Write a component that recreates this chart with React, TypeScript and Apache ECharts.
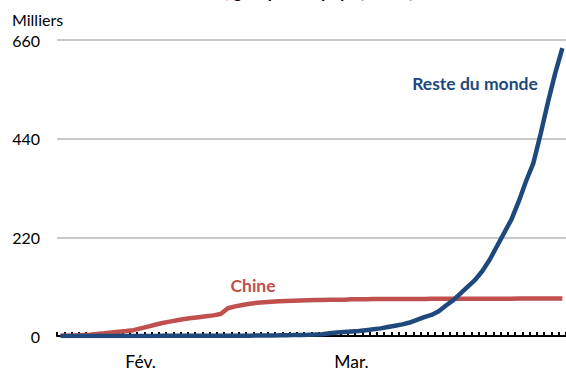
import React, { useEffect, useRef } from "react";
import * as echarts from "echarts";

const startDate = new Date(2020, 0, 21);
const monthNames = ["Janv.", "Fév.", "Mar.", "Avr."];
const categories: string[] = [];
for (let i = 0; i < 70; i++) {
  const d = new Date(startDate.getTime() + i * 86400000);
  categories.push(`${d.getFullYear()}-${d.getMonth() + 1}-${d.getDate()}`);
}
const monthLabelDates = ["2020-2-1", "2020-3-1"];

const chine = [
  0.5, 0.8, 1.2, 2, 3, 4.5, 6, 8, 9.5, 11,
  13, 17, 21, 25, 29, 32, 35, 38, 40, 42,
  44, 46, 49, 62, 66, 69, 72, 74, 75.5, 76.5,
  77.5, 78, 78.5, 79, 79.5, 80, 80.3, 80.6, 80.8, 81,
  82, 82.1, 82.2, 82.3, 82.4, 82.5, 82.5, 82.6, 82.6, 82.7,
  82.7, 82.8, 82.8, 82.9, 82.9, 83, 83, 83.1, 83.1, 83.2,
  83.2, 83.3, 83.3, 83.4, 83.4, 83.4, 83.5, 83.5, 83.5, 83.5,
];

const resteDuMonde = [
  0, 0, 0, 0, 0, 0.1, 0.1, 0.1, 0.1, 0.1,
  0.2, 0.2, 0.2, 0.2, 0.3, 0.3, 0.3, 0.3, 0.4, 0.4,
  0.5, 0.5, 0.5, 0.6, 0.6, 0.7, 0.8, 0.9, 1, 1.2,
  1.4, 1.7, 2, 2.4, 2.8, 3.3, 4, 6, 8, 9,
  10, 11, 13, 15, 17, 20, 23, 26, 30, 36,
  42, 47, 55, 68, 80, 95, 110, 125, 145, 170,
  200, 230, 260, 300, 345, 385, 450, 520, 585, 642,
];

const yTicks = [0, 220, 440, 660];

const FONT = "Lato, 'Open Sans', sans-serif";

export default function App() {
  const ref = useRef<HTMLDivElement>(null);
  useEffect(() => {
    if (!ref.current) return;
    const chart = echarts.init(ref.current, undefined, { renderer: "svg" });
    chart.setOption({
      animation: false,
      backgroundColor: "#ffffff",
      textStyle: { fontFamily: FONT },
      grid: { left: 57, right: 0, top: 40, bottom: 33, containLabel: false },
      xAxis: {
        type: "category",
        data: categories,
        boundaryGap: true,
        axisLine: { show: true, lineStyle: { color: "#000000", width: 2 } },
        axisTick: {
          show: true,
          inside: true,
          length: 4,
          interval: 0,
          lineStyle: { color: "#000000", width: 2 },
        },
        axisLabel: {
          interval: (idx: number, val: string) => monthLabelDates.includes(val),
          formatter: (val: string) => {
            const m = parseInt(val.split("-")[1], 10);
            return monthNames[m - 1];
          },
          color: "#000000",
          fontSize: 17.5,
          fontFamily: FONT,
          margin: 16,
        },
        splitLine: { show: false },
      },
      yAxis: {
        type: "value",
        min: yTicks[0],
        max: yTicks[yTicks.length - 1],
        interval: 220,
        axisLine: { show: false },
        axisTick: { show: false },
        axisLabel: {
          color: "#000000",
          fontSize: 16,
          fontFamily: FONT,
          margin: 17,
        },
        splitLine: { show: true, lineStyle: { color: "#C8C8C8", width: 2 } },
      },
      series: [
        {
          name: "Chine",
          type: "line",
          data: chine,
          showSymbol: false,
          symbol: "none",
          lineStyle: { color: "#C0504D", width: 4.5 },
          z: 3,
        },
        {
          name: "Reste du monde",
          type: "line",
          data: resteDuMonde,
          showSymbol: false,
          symbol: "none",
          lineStyle: { color: "#1F497D", width: 4.5 },
          z: 4,
        },
      ],
      graphic: [
        {
          type: "text",
          left: 12,
          top: -17,
          style: {
            text: "Cas confirmés de COVID-19, groupe des pays (cumul)",
            fontSize: 17,
            fontWeight: "bold",
            fontFamily: FONT,
            fill: "#000000",
          },
        },
        {
          type: "text",
          left: 12,
          top: 11,
          style: {
            text: "Milliers",
            fontSize: 16,
            fontFamily: FONT,
            fill: "#000000",
          },
        },
        {
          type: "text",
          x: 253,
          y: 285,
          style: {
            text: "Chine",
            fontSize: 17.5,
            fontWeight: "bold",
            fontFamily: FONT,
            fill: "#C0504D",
            align: "center",
            verticalAlign: "middle",
          },
        },
        {
          type: "text",
          x: 475,
          y: 83,
          style: {
            text: "Reste du monde",
            fontSize: 17.5,
            fontWeight: "bold",
            fontFamily: FONT,
            fill: "#1F497D",
            align: "center",
            verticalAlign: "middle",
          },
        },
      ],
    });
    return () => chart.dispose();
  }, []);
  return (
    <div
      ref={ref}
      style={{ position: "fixed", left: 0, top: 0, width: 566, height: 370 }}
    />
  );
}
